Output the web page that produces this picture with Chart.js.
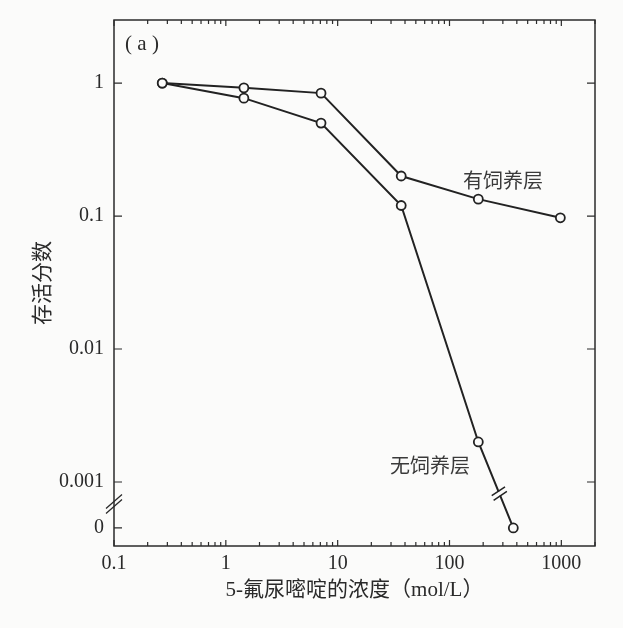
<!DOCTYPE html>
<html>
<head>
<meta charset="utf-8">
<script src="https://cdn.jsdelivr.net/npm/chart.js@4.4.1/dist/chart.umd.min.js"></script>
<style>
  html, body { margin: 0; padding: 0; background: #fbfbfa; }
  #wrap { width: 623px; height: 628px; }
</style>
</head>
<body>
<div id="wrap"><canvas id="survival" width="623" height="628"></canvas></div>
<script>
// 存活分数 vs 5-氟尿嘧啶浓度
const concWithFeeder = [0.27, 1.45, 7.1, 37, 181, 980];
const survWithFeeder = [1.0, 0.92, 0.84, 0.20, 0.134, 0.097];
const concNoFeeder = [0.27, 1.45, 7.1, 37, 181, 372];
const survNoFeeder = [1.0, 0.77, 0.50, 0.12, 0.002, 0];
const xTickValues = [0.1, 1, 10, 100, 1000];
const yTickValues = [1, 0.1, 0.01, 0.001, 0];

// broken log axis: "0" is put below the break
const ZERO_AT = 0.000451;
const Y_MIN = 0.00033;
const Y_MAX = 2.98;
const X_MIN = 0.1;
const X_MAX = 2000;

const BG = '#fbfbfa';
const INK = '#222';
const serif = "'Liberation Serif', 'Noto Sans CJK SC', serif";

function toY(v) {
  return v === 0 ? ZERO_AT : v;
}
function points(xs, ys) {
  return xs.map((x, i) => ({ x: x, y: toY(ys[i]) }));
}

const axisDecor = {
  id: 'axisDecor',
  beforeDatasetsDraw(chart) {
    const { ctx, chartArea: a, scales: { x, y } } = chart;
    ctx.save();
    ctx.strokeStyle = '#2b2b2b';
    ctx.lineWidth = 1.5;
    ctx.strokeRect(a.left, a.top, a.right - a.left, a.bottom - a.top);

    ctx.lineWidth = 1.2;
    ctx.beginPath();
    // log ticks on bottom and top, pointing inward
    for (let d = 0.1; d < X_MAX; d *= 10) {
      for (let m = 1; m < 10; m++) {
        const v = d * m;
        if (v > X_MAX) break;
        const px = x.getPixelForValue(v);
        const len = m === 1 ? 6 : 4;
        ctx.moveTo(px, a.bottom);
        ctx.lineTo(px, a.bottom - len);
        ctx.moveTo(px, a.top);
        ctx.lineTo(px, a.top + len);
      }
    }
    for (const v of yTickValues) {
      const py = y.getPixelForValue(toY(v));
      ctx.moveTo(a.left, py);
      ctx.lineTo(a.left + 8, py);
      if (v !== 0) {
        ctx.moveTo(a.right, py);
        ctx.lineTo(a.right - 8, py);
      }
    }
    ctx.stroke();

    // break marks on the y axis
    const yb = y.getPixelForValue(0.001) * 0.52 + y.getPixelForValue(ZERO_AT) * 0.48;
    ctx.lineWidth = 1.3;
    ctx.beginPath();
    for (const off of [-2.5, 2.5]) {
      ctx.moveTo(a.left - 8, yb + 7 + off);
      ctx.lineTo(a.left + 8, yb - 7 + off);
    }
    ctx.stroke();
    ctx.restore();
  },
  afterDatasetsDraw(chart) {
    const { ctx } = chart;
    const meta = chart.getDatasetMeta(1);
    const p1 = meta.data[4];
    const p2 = meta.data[5];
    const t = 0.6;
    const cx = p1.x + (p2.x - p1.x) * t;
    const cy = p1.y + (p2.y - p1.y) * t;
    const len = Math.hypot(p2.x - p1.x, p2.y - p1.y);
    const ux = (p2.x - p1.x) / len;
    const uy = (p2.y - p1.y) / len;
    ctx.save();
    // small gap in the line
    ctx.strokeStyle = BG;
    ctx.lineWidth = 4;
    ctx.beginPath();
    ctx.moveTo(cx - ux * 2, cy - uy * 2);
    ctx.lineTo(cx + ux * 2, cy + uy * 2);
    ctx.stroke();
    // the two slashes
    ctx.strokeStyle = INK;
    ctx.lineWidth = 1.5;
    ctx.beginPath();
    for (const off of [-2.5, 2.5]) {
      const bx = cx + ux * off;
      const by = cy + uy * off;
      ctx.moveTo(bx - 0.83 * 8, by + 0.55 * 8);
      ctx.lineTo(bx + 0.83 * 8, by - 0.55 * 8);
    }
    ctx.stroke();

    ctx.fillStyle = '#2a2a2a';
    ctx.textAlign = 'center';
    ctx.textBaseline = 'middle';
    ctx.font = "21px 'Liberation Serif'";
    ctx.fillText('( a )', 142, 44);
    ctx.fillStyle = '#3a3a3a';
    ctx.font = "20px 'Noto Sans CJK SC'";
    ctx.fillText('有饲养层', 503, 180);
    ctx.fillText('无饲养层', 430, 465);
    ctx.restore();
  }
};

const lineStyle = {
  borderColor: INK,
  borderWidth: 2,
  pointRadius: 4.5,
  pointBorderWidth: 1.8,
  pointBackgroundColor: BG,
  pointBorderColor: INK,
  tension: 0,
  fill: false
};

new Chart(document.getElementById('survival'), {
  type: 'line',
  data: {
    datasets: [
      Object.assign({ label: '有饲养层', data: points(concWithFeeder, survWithFeeder) }, lineStyle),
      Object.assign({ label: '无饲养层', data: points(concNoFeeder, survNoFeeder) }, lineStyle)
    ]
  },
  options: {
    responsive: false,
    animation: false,
    layout: { padding: { top: 20, right: 28, left: 0, bottom: 0 } },
    plugins: { legend: { display: false }, tooltip: { enabled: false } },
    scales: {
      x: {
        type: 'logarithmic',
        bounds: 'data',
        min: X_MIN,
        max: X_MAX,
        afterBuildTicks: (s) => { s.ticks = xTickValues.map((v) => ({ value: v })); },
        afterFit: (s) => { s.height = 82; },
        grid: { display: false, drawTicks: false },
        border: { display: false },
        ticks: {
          padding: 6,
          color: '#2a2a2a',
          autoSkip: false,
          maxRotation: 0,
          font: { family: serif, size: 20 },
          callback: (v) => String(v)
        },
        title: {
          display: true,
          text: '5-氟尿嘧啶的浓度（mol/L）',
          color: '#2a2a2a',
          font: { family: serif, size: 21 },
          padding: { top: 0, bottom: 25 }
        }
      },
      y: {
        type: 'logarithmic',
        bounds: 'data',
        min: Y_MIN,
        max: Y_MAX,
        afterBuildTicks: (s) => { s.ticks = yTickValues.map((v) => ({ value: toY(v) })); },
        afterFit: (s) => { s.width = 114; },
        grid: { display: false, drawTicks: false },
        border: { display: false },
        ticks: {
          padding: 10,
          color: '#2a2a2a',
          autoSkip: false,
          font: { family: serif, size: 20, lineHeight: 1 },
          callback: (v) => (v === ZERO_AT ? '0' : String(v))
        },
        title: {
          display: true,
          text: '存活分数',
          color: '#2a2a2a',
          font: { family: serif, size: 21 },
          padding: { top: 31, bottom: 0 }
        }
      }
    }
  },
  plugins: [axisDecor]
});
</script>
</body>
</html>
